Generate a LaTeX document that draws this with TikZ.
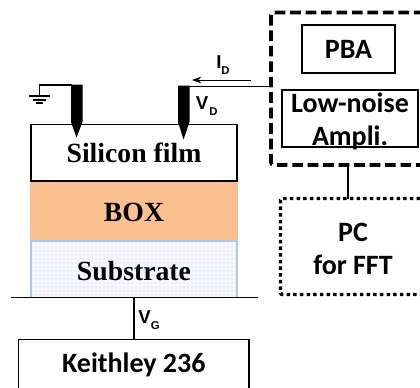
\documentclass[tikz,border=0pt]{standalone}
\usepackage{fontspec}
\setmainfont{Liberation Serif}
\newfontfamily\calfont{Carlito}
\newfontfamily\arlfont{Liberation Sans}
\usetikzlibrary{patterns,calc,arrows.meta}
\definecolor{boxor}{RGB}{251,192,144}
\definecolor{subedge}{RGB}{170,200,235}
\tikzset{
  labser/.style={font=\fontsize{20.8}{21}\selectfont\bfseries},
  labcal/.style={font=\calfont\fontsize{21}{24.75}\selectfont\bfseries,align=center},
  blk/.style={draw=black,line width=1.2pt,inner sep=0pt,outer sep=0pt,anchor=north west},
  wire/.style={draw=black,line width=1.4pt},
  probe/.style={fill=black,draw=none},
  sym/.style={font=\arlfont\bfseries\fontsize{14}{14}\selectfont,inner sep=0pt},
  subs/.style={font=\arlfont\bfseries\fontsize{8.5}{8.5}\selectfont,inner sep=0pt}
}
\begin{document}
\begin{tikzpicture}[x=0.75pt,y=-0.75pt]
\useasboundingbox (0,0) rectangle (420,387);
% layers
\fill[boxor] (30,181) rectangle (237.5,241);
\node[blk,labser,minimum width=154.5pt,minimum height=42.4pt] (film) at (31,124.5) {Silicon film};
\node[labser] (box) at (134,212) {BOX};
\fill[blue!3] (31,241) rectangle (237,297);
\fill[pattern=dots,pattern color=blue!22] (31,241) rectangle (237,297);
\draw[subedge,line width=0.9pt] (31,297) -- (31,241) -- (237,241) -- (237,297);
\node[labser] (sub) at (134,271) {Substrate};
% gate
\coordinate (gl) at (11,297.5);
\coordinate (gr) at (258,297.5);
\coordinate (gm) at (134,297.5);
\draw[wire] (gl) -- (gr);
\node[blk,labcal,minimum width=173pt,minimum height=38.5pt] (keith) at (18.5,339.5) {Keithley 236};
\draw[wire] (gm) -- (gm |- keith.north);
\node[sym,anchor=west] (vg) at (138,317) {V};
\node[subs,anchor=west] (vgs) at (150.5,326) {G};
% probes
\fill[probe] (71,84.5) -- (82.5,84.5) -- (82.5,122) -- (76.5,137.5) -- (71,122) -- cycle;
\fill[probe] (178,85.5) -- (189.5,85.5) -- (189.5,122) -- (183.5,139.5) -- (178,122) -- cycle;
\coordinate (pl) at (71.5,85);
\coordinate (pr) at (179,86.5);
% ground
\coordinate (g0) at (39.5,85);
\coordinate (g1) at (39.5,96);
\draw[wire] (pl) -- (g0) -- (g1);
\draw[line width=1.3pt] (29,96) -- (50,96);
\draw[line width=1.3pt] (33,100) -- (46,100);
\draw[line width=1.3pt] (36,103) -- (43,103);
% dashed unit
\begin{scope}
\clip (0,0) rectangle (420,387);
\draw[black,line width=2.8pt,dash pattern=on 8pt off 3.6pt,rounded corners=2pt] (440,12.5) -- (271,12.5) -- (271,165) -- (440,165);
\draw[black,line width=2.6pt,dash pattern=on 2.6pt off 2.4pt,rounded corners=1pt] (440,198.5) -- (280.5,198.5) -- (280.5,294.5) -- (440,294.5);
\end{scope}
\coordinate (dashw) at (271,86.5);
\coordinate (dashb) at (348,165);
\coordinate (dotb) at (348,198.5);
\draw[wire] (pr) -- (dashw);
\draw[wire] (dashb) -- (dotb);
\coordinate (ia) at (251,80);
\coordinate (ib) at (192,80);
\draw[-{Stealth[length=7pt,width=5pt]},line width=0.7pt] (ia) -- (ib);
\node[sym] (id) at (219,62) {I};
\node[subs] (ids) at (225.5,71) {D};
\node[sym,anchor=west] (vd) at (195.5,103) {V};
\node[subs,anchor=west] (vds) at (209,112) {D};
% right boxes
\node[blk,labcal,minimum width=69.75pt,minimum height=36pt] (pba) at (302,25) {PBA};
\node[blk,minimum width=102pt,minimum height=42.75pt] (lna) at (282,90) {};
\node[labcal,inner sep=0pt] (lnat) at (350,121.5) {Low-noise\\Ampli.};
\node[labcal,inner sep=0pt] (pc) at (353,248.5) {PC\\for FFT};
\end{tikzpicture}
\end{document}
